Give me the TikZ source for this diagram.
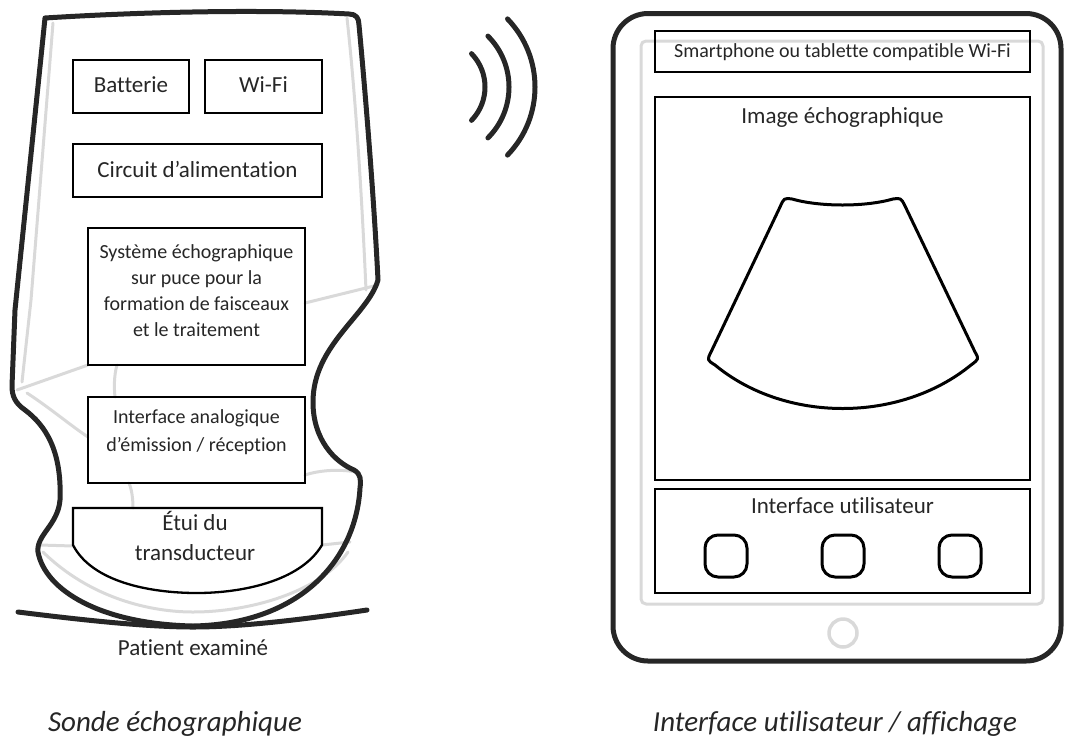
\documentclass[tikz,border=0pt]{standalone}
\usepackage{fontspec}
\setmainfont{Carlito}[Ligatures={NoCommon}]
\definecolor{ink}{HTML}{262626}
\definecolor{shade}{HTML}{D9D9D9}
\begin{document}
\begin{tikzpicture}[x=1pt,y=-1pt,
  outline/.style={draw=ink,line width=5pt,line cap=round,line join=round},
  guide/.style={draw=shade,line width=3pt,line cap=round,line join=round},
  blockbox/.style={draw=black,line width=2.3pt,inner sep=0pt},
  txt/.style={text=ink,inner sep=0pt,anchor=base},
  big/.style={txt,font=\fontsize{23}{28}\selectfont},
  small/.style={txt,font=\fontsize{20}{26}\selectfont},
  caption/.style={txt,font=\fontsize{29}{34}\selectfont\itshape},
  wave/.style={draw=ink,line width=5pt,line cap=round},
  btn/.style={draw=black,line width=3pt,rounded corners=13pt,minimum width=42pt,minimum height=42pt,inner sep=0pt}]
\useasboundingbox (0,0) rectangle (1067,753);

% ---------- probe: light inner contour lines ----------
\draw[guide] (53,23) -- (31,300) -- (22,382);
\draw[guide] (347,18) .. controls (356,100) and (362,200) .. (366,290);
\draw[guide] (305,303) -- (378,285);
\draw[guide] (17,390) -- (88,365);
\draw[guide] (27,393) .. controls (50,408) and (70,425) .. (88,437);
\draw[guide] (117,365) .. controls (114,375) and (114,388) .. (115,397);
\draw[guide] (305,475) .. controls (320,470) and (340,469) .. (356,472);
\draw[guide] (129,483) .. controls (132,490) and (133,500) .. (133,508);
\draw[guide] (40,545) -- (73,546);
\draw[guide] (322,545) -- (350,542);
\draw[guide] (43,552) .. controls (90,598) and (150,612) .. (193,612)
  .. controls (250,612) and (320,592) .. (348,552);

% ---------- probe body ----------
\draw[outline] (45,18) .. controls (140,12) and (260,9) .. (349,14)
  .. controls (356,14) and (359,18) .. (359,25)
  .. controls (366,100) and (374,200) .. (378,280)
  .. controls (368,315) and (313,345) .. (313,402)
  .. controls (313,440) and (335,462) .. (354,470)
  .. controls (361,474) and (361,480) .. (360,488)
  .. controls (356,560) and (300,624) .. (193,626)
  .. controls (100,624) and (45,590) .. (38,552)
  .. controls (36,535) and (58,525) .. (60,500)
  .. controls (62,450) and (45,425) .. (25,410)
  .. controls (15,403) and (12,396) .. (12,386)
  -- (15,310) -- cycle;

% patient skin line
\draw[outline] (18,612) .. controls (90,621) and (150,627) .. (193,627)
  .. controls (240,627) and (300,620) .. (367,610);

% ---------- probe blocks ----------
\node[blockbox,minimum width=116pt,minimum height=53pt] (batt) at (131,86.5) {};
\node[blockbox,minimum width=117pt,minimum height=53pt] (wifi) at (263.5,86.5) {};
\node[blockbox,minimum width=249pt,minimum height=53pt] (power) at (197.5,170.5) {};
\node[blockbox,minimum width=217pt,minimum height=137pt] (soc) at (196.5,296.5) {};
\node[blockbox,minimum width=217pt,minimum height=86pt] (afe) at (196.5,440) {};
\draw[blockbox] (73,508) -- (322,508) -- (322,545)
  .. controls (300,582) and (240,593) .. (197,593)
  .. controls (150,593) and (92,582) .. (73,545) -- cycle;
\coordinate (housing) at (197,545);

\node[big] (tbatt) at (131,92) {Batterie};
\node[big] (twifi) at (263.5,92) {Wi-Fi};
\node[big] (tpower) at (197.5,177) {Circuit d’alimentation};
\node[small] (tsoc1) at (196.5,258) {Système échographique};
\node[small] (tsoc2) at (196.5,284) {sur puce pour la};
\node[small] (tsoc3) at (196.5,310) {formation de faisceaux};
\node[small] (tsoc4) at (196.5,336) {et le traitement};
\node[small] (tafe1) at (196.5,423) {Interface analogique};
\node[small] (tafe2) at (196.5,451) {d’émission / réception};
\node[big] (thous1) at (195,530) {Étui du};
\node[big] (thous2) at (195,560) {transducteur};
\node[big] (tpat) at (193,655) {Patient examiné};

% ---------- wireless link ----------
\draw[wave] (437,87) ++(-44:48) arc[start angle=-44,end angle=44,radius=48];
\draw[wave] (437,87) ++(-45:72) arc[start angle=-45,end angle=45,radius=72];
\draw[wave] (437,87) ++(-44:98) arc[start angle=-44,end angle=44,radius=98];

% ---------- tablet ----------
\draw[draw=ink,line width=5pt,rounded corners=35pt] (613,13.5) rectangle (1061,661);
\draw[guide,rounded corners=5pt] (641,41) rectangle (1043,604);
\draw[draw=shade,line width=3.5pt] (843,633) circle[radius=14];

\node[blockbox,minimum width=375pt,minimum height=41pt] (phone) at (842.5,51.5) {};
\node[blockbox,minimum width=375pt,minimum height=383pt] (screen) at (842.5,288.5) {};
\node[blockbox,minimum width=375pt,minimum height=104pt] (ui) at (842.5,541) {};

\node[small] (tphone) at (842.5,57) {Smartphone ou tablette compatible Wi-Fi};
\node[big] (tscreen) at (842.5,123) {Image échographique};
\node[big] (tui) at (842.5,513) {Interface utilisateur};

% ultrasound sector image
\draw[draw=black,line width=3pt,line join=round]
  (780,207) -- (711,352)
  .. controls (707,360) .. (715,365)
  .. controls (785,423) and (900,423) .. (971,365)
  .. controls (979,359) .. (975,352)
  -- (905,206)
  .. controls (901,198) .. (893,199)
  .. controls (865,207) and (820,207) .. (792,199)
  .. controls (784,198) .. cycle;

\node[btn] (b1) at (726,556) {};
\node[btn] (b2) at (843,556) {};
\node[btn] (b3) at (960,556) {};

% ---------- captions ----------
\node[caption] (cap1) at (175,731) {Sonde échographique};
\node[caption] (cap2) at (835,731) {Interface utilisateur / affichage};
\end{tikzpicture}
\end{document}
